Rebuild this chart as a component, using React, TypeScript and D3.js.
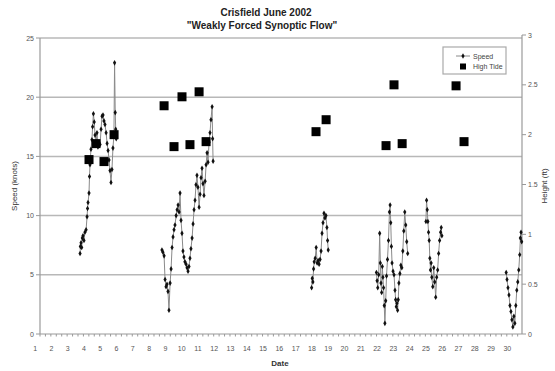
import React from 'react';
import * as d3 from 'd3';

// Wind speed (knots) by date in June 2002, one array per observation run
const speedRun1: [number, number][] = [
  [3.76, 6.8], [3.78, 7.4], [3.82, 7.7], [3.86, 7.3], [3.9, 8.1], [3.94, 8.3], [4.0, 7.9], [4.06, 8.6],
  [4.13, 8.8], [4.19, 9.9], [4.22, 10.6], [4.25, 11.1], [4.31, 11.9], [4.34, 13.3], [4.37, 14.3],
  [4.43, 15.6], [4.49, 16.4], [4.53, 17.5], [4.58, 18.6], [4.63, 17.9], [4.68, 16.8], [4.74, 16.0],
  [4.8, 17.0], [4.86, 15.8], [4.92, 16.2], [4.99, 16.0], [5.05, 17.3], [5.11, 18.4], [5.17, 18.5],
  [5.23, 18.0], [5.29, 17.7], [5.36, 17.0], [5.42, 16.1], [5.48, 15.5], [5.54, 14.7], [5.6, 13.8],
  [5.66, 12.8], [5.72, 13.9], [5.78, 15.7], [5.84, 16.8], [5.88, 22.9], [5.92, 18.7], [5.95, 17.3], [5.98, 16.5],
];
const speedRun2: [number, number][] = [
  [8.79, 7.1], [8.85, 6.9], [8.92, 6.6], [8.98, 4.6], [9.04, 4.0], [9.1, 4.2], [9.16, 3.6], [9.22, 2.0],
  [9.29, 4.3], [9.35, 5.5], [9.41, 7.3], [9.47, 8.2], [9.53, 8.8], [9.59, 9.2], [9.66, 10.0], [9.72, 10.5],
  [9.78, 10.9], [9.84, 10.3], [9.9, 11.9], [9.96, 9.6], [10.02, 8.5], [10.08, 7.0], [10.14, 6.5], [10.2, 6.1],
  [10.27, 5.9], [10.33, 5.6], [10.39, 5.3], [10.45, 5.7], [10.51, 6.4], [10.57, 7.2], [10.64, 8.1],
  [10.7, 9.3], [10.76, 10.5], [10.82, 11.3], [10.88, 12.6], [10.94, 13.4], [11.0, 12.4], [11.07, 10.7],
  [11.13, 11.8], [11.19, 13.2], [11.25, 14.0], [11.31, 12.7], [11.37, 11.7], [11.44, 12.9], [11.5, 14.3],
  [11.56, 15.3], [11.62, 14.5], [11.68, 16.2], [11.74, 17.0], [11.8, 18.1], [11.87, 19.2], [11.9, 16.5], [11.93, 14.6],
];
const speedRun3: [number, number][] = [
  [17.98, 3.9], [18.02, 4.7], [18.06, 4.4], [18.1, 5.5], [18.14, 6.1], [18.2, 6.4], [18.26, 7.3],
  [18.32, 6.0], [18.38, 6.2], [18.44, 5.9], [18.5, 6.3], [18.56, 7.0], [18.62, 8.5], [18.68, 9.4],
  [18.74, 10.2], [18.8, 9.8], [18.86, 10.0], [18.92, 9.0], [18.96, 7.9], [19.0, 7.1],
];
const speedRun4: [number, number][] = [
  [21.96, 5.2], [22.0, 4.5], [22.04, 3.9], [22.1, 5.0], [22.16, 8.5], [22.2, 6.0], [22.24, 4.3],
  [22.28, 3.5], [22.32, 5.7], [22.36, 4.8], [22.4, 3.9], [22.44, 2.4], [22.48, 0.9], [22.53, 2.8],
  [22.58, 4.9], [22.64, 6.3], [22.7, 7.9], [22.76, 10.3], [22.8, 10.9], [22.84, 9.4], [22.88, 7.4],
  [22.92, 6.0], [22.98, 5.3], [23.04, 5.0], [23.1, 3.7], [23.14, 2.9], [23.18, 2.3], [23.22, 2.6],
  [23.26, 2.0], [23.3, 2.9], [23.34, 4.3], [23.4, 5.1], [23.46, 5.8], [23.52, 5.6], [23.58, 7.0],
  [23.64, 8.7], [23.7, 10.3], [23.76, 9.2], [23.82, 7.8], [23.88, 6.8],
];
const speedRun5: [number, number][] = [
  [25.0, 9.5], [25.04, 11.3], [25.08, 10.5], [25.12, 9.5], [25.16, 8.6], [25.2, 7.9], [25.24, 6.4],
  [25.28, 5.4], [25.32, 6.0], [25.36, 4.8], [25.42, 4.0], [25.48, 5.6], [25.54, 4.4], [25.6, 3.1],
  [25.66, 4.8], [25.72, 5.4], [25.78, 6.8], [25.84, 7.9], [25.9, 8.6], [25.94, 9.0], [25.98, 8.3],
];
const speedRun6: [number, number][] = [
  [29.93, 5.2], [29.98, 4.6], [30.04, 3.9], [30.1, 3.3], [30.16, 2.4], [30.22, 1.9], [30.28, 1.2],
  [30.34, 0.6], [30.4, 1.5], [30.46, 0.9], [30.52, 2.4], [30.58, 3.7], [30.64, 4.4], [30.7, 5.4],
  [30.76, 6.7], [30.8, 8.1], [30.84, 8.6], [30.88, 7.8],
];
const speedRuns = [speedRun1, speedRun2, speedRun3, speedRun4, speedRun5, speedRun6];

// High tide height (ft)
const tideDays = [4.31, 4.74, 5.23, 5.85, 8.92, 9.53, 10.02, 10.51, 11.07, 11.5, 18.25, 18.87, 22.55, 23.04, 23.54, 26.85, 27.34];
const tideHeights = [1.75, 1.91, 1.73, 2.0, 2.29, 1.88, 2.38, 1.9, 2.43, 1.93, 2.03, 2.15, 1.89, 2.5, 1.91, 2.49, 1.93];

const dayTicks = d3.range(1, 31);
const speedTicks = [0, 5, 10, 15, 20, 25];
const heightTicks = [0, 0.5, 1, 1.5, 2, 2.5, 3];

const W = 555;
const H = 371;
const margin = { top: 38, right: 33, bottom: 37, left: 40 };
const font = 'Liberation Sans, Arial, sans-serif';

export default function App() {
  const x = d3.scaleLinear().domain([1.3, 30.9]).range([margin.left, W - margin.right]);
  const ySpeed = d3.scaleLinear().domain([0, 25]).range([H - margin.bottom, margin.top]);
  const yTide = d3.scaleLinear().domain([0, 3]).range([H - margin.bottom, margin.top - 3]);

  const line = d3.line<[number, number]>()
    .x(d => x(d[0]))
    .y(d => ySpeed(d[1]));

  const x0 = margin.left;
  const x1 = W - margin.right;
  const yb = H - margin.bottom;
  const minor = d3.range(1.3, 30.9, 1 / 3);

  return (
    <svg width={W} height={H} style={{ position: 'absolute', left: 0, top: 0, background: '#fff' }} fontFamily={font}>
      <text x={266} y={16} textAnchor="middle" fontSize={10} fontWeight="bold" fill="#222">Crisfield June 2002</text>
      <text x={262} y={29} textAnchor="middle" fontSize={10} fontWeight="bold" fill="#222">"Weakly Forced Synoptic Flow"</text>

      {/* gridlines */}
      {speedTicks.filter(t => t > 0).map(t => (
        <line key={t} x1={x0} x2={x1} y1={ySpeed(t)} y2={ySpeed(t)} stroke="#b8b8b8" strokeWidth={1.5} />
      ))}

      {/* axes */}
      <line x1={x0} x2={x0} y1={margin.top} y2={yb} stroke="#9a9a9a" strokeWidth={1.2} />
      <line x1={x1} x2={x1} y1={margin.top - 3} y2={yb} stroke="#9a9a9a" strokeWidth={1.2} />
      <line x1={x0} x2={x1} y1={yb} y2={yb} stroke="#9a9a9a" strokeWidth={1.2} />
      {minor.map((d, i) => (
        <line key={i} x1={x(d)} x2={x(d)} y1={yb} y2={yb + 2.5} stroke="#999" strokeWidth={1} />
      ))}
      {speedTicks.map(t => (
        <g key={t}>
          <line x1={x0 - 4} x2={x0} y1={ySpeed(t)} y2={ySpeed(t)} stroke="#999" />
          <text x={x0 - 6} y={ySpeed(t) + 2.5} textAnchor="end" fontSize={7} fill="#555">{t}</text>
        </g>
      ))}
      {heightTicks.map(t => (
        <g key={t}>
          <line x1={x1} x2={x1 + 4} y1={yTide(t)} y2={yTide(t)} stroke="#999" />
          <text x={x1 + 6} y={yTide(t) + 2.5} fontSize={7} fill="#555">{t}</text>
        </g>
      ))}
      {dayTicks.map(d => (
        <text key={d} x={x(d)} y={351} textAnchor="middle" fontSize={7} fill="#555">{d}</text>
      ))}

      <text x={280} y={366} textAnchor="middle" fontSize={8} fontWeight="bold" fill="#333">Date</text>
      <text transform={`translate(17,${(margin.top + yb) / 2}) rotate(-90)`} textAnchor="middle" fontSize={8} fill="#333">Speed (knots)</text>
      <text transform={`translate(547,${(margin.top + yb) / 2}) rotate(-90)`} textAnchor="middle" fontSize={8} fill="#333">Height (ft)</text>

      {/* speed series */}
      {speedRuns.map((run, i) => (
        <g key={i}>
          <path d={line(run) ?? ''} fill="none" stroke="#8a8a8a" strokeWidth={1} />
          {run.map((d, j) => (
            <path key={j} d={d3.symbol(d3.symbolDiamond, 9)() ?? ''}
              transform={`translate(${x(d[0])},${ySpeed(d[1])})`} fill="#111" />
          ))}
        </g>
      ))}

      {/* high tide */}
      {tideDays.map((d, i) => (
        <rect key={i} x={x(d) - 4.5} y={yTide(tideHeights[i]) - 4.5} width={9} height={9} fill="#000" />
      ))}

      {/* legend */}
      <rect x={443} y={47} width={63} height={27} fill="#fff" stroke="#aaa" strokeWidth={1.2} />
      <line x1={456} x2={470} y1={56} y2={56} stroke="#8a8a8a" />
      <path d={d3.symbol(d3.symbolDiamond, 9)() ?? ''} transform="translate(463,56)" fill="#111" />
      <text x={473} y={58.5} fontSize={7} fill="#444">Speed</text>
      <rect x={460} y={63.5} width={6} height={6} fill="#000" />
      <text x={473} y={69} fontSize={7} fill="#444">High Tide</text>
    </svg>
  );
}
